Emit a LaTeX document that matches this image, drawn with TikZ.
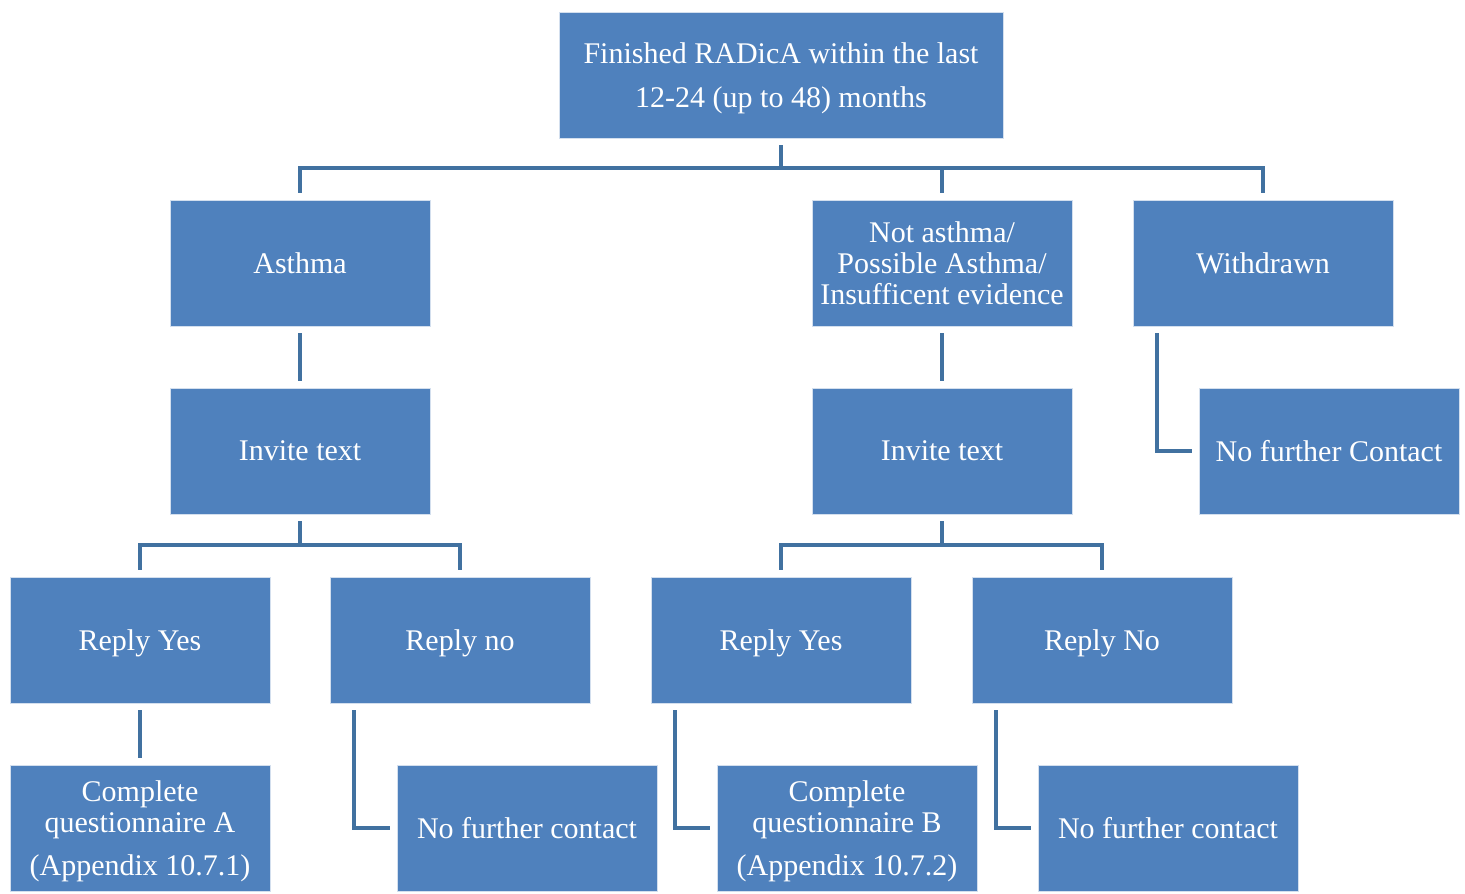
\documentclass[tikz,border=0pt]{standalone}
\usepackage{fontspec}
\setmainfont{Liberation Serif}
\usepackage{xcolor}

\begin{document}
\begin{tikzpicture}[x=0.5pt, y=-0.5pt]
    % Define colors
    \definecolor{boxfill}{RGB}{79, 129, 189}
    \definecolor{boxline}{RGB}{65, 113, 160}

    \tikzset{
        box/.style={fill=boxfill, draw=white!75!boxfill, line width=0.4pt, text=white,
            minimum width=130pt, minimum height=63pt, align=center, inner sep=1pt,
            text depth=0pt, font=\fontsize{15}{15.5}\selectfont},
        conn/.style={draw=boxline, line width=2pt},
        gap/.style={shorten <=3.5pt, shorten >=3.5pt}
    }

    \useasboundingbox (0,0) rectangle (1465,893);

    % Boxes
    \node[box, minimum width=222pt, font=\fontsize{15}{22}\selectfont] (top) at (781,75)
        {Finished RADicA within the last\\12-24 (up to 48) months};
    \node[box] (asthma) at (300,263) {Asthma};
    \node[box] (notasthma) at (942,263) {Not asthma/\\Possible Asthma/\\Insufficent evidence};
    \node[box] (withdrawn) at (1263,263) {Withdrawn};
    \node[box] (inviteA) at (300,451) {Invite text};
    \node[box] (inviteB) at (942,451) {Invite text};
    \node[box] (nfcW) at (1329,451) {No further Contact};
    \node[box] (yesA) at (140,640) {Reply Yes};
    \node[box] (noA) at (460,640) {Reply no};
    \node[box] (yesB) at (781,640) {Reply Yes};
    \node[box] (noB) at (1102,640) {Reply No};
    \node[box] (questA) at (140,828) {Complete\\questionnaire A\\[6pt](Appendix 10.7.1)};
    \node[box] (nfcA) at (527,828) {No further contact};
    \node[box] (questB) at (847,828) {Complete\\questionnaire B\\[6pt](Appendix 10.7.2)};
    \node[box] (nfcB) at (1168,828) {No further contact};

    % Connectors
    \coordinate (busTop) at (781,168);
    \coordinate (busA) at (300,545);
    \coordinate (busB) at (942,545);
    \draw[conn, shorten <=3.5pt] (top.south) -- (busTop);
    \foreach \n in {asthma, notasthma, withdrawn}
        \draw[conn, shorten >=3.5pt] (busTop) -| (\n.north);
    \draw[conn, gap] (asthma) -- (inviteA);
    \draw[conn, gap] (notasthma) -- (inviteB);
    \draw[conn, shorten <=3.5pt] (inviteA.south) -- (busA);
    \draw[conn, shorten <=3.5pt] (inviteB.south) -- (busB);
    \foreach \n in {yesA, noA}
        \draw[conn, shorten >=3.5pt] (busA) -| (\n.north);
    \foreach \n in {yesB, noB}
        \draw[conn, shorten >=3.5pt] (busB) -| (\n.north);
    \draw[conn, gap] (yesA) -- (questA);
    \draw[conn, gap] ([xshift=12pt]withdrawn.south west) |- (nfcW.west);
    \draw[conn, gap] ([xshift=12pt]noA.south west) |- (nfcA.west);
    \draw[conn, gap] ([xshift=12pt]yesB.south west) |- (questB.west);
    \draw[conn, gap] ([xshift=12pt]noB.south west) |- (nfcB.west);
\end{tikzpicture}
\end{document}
